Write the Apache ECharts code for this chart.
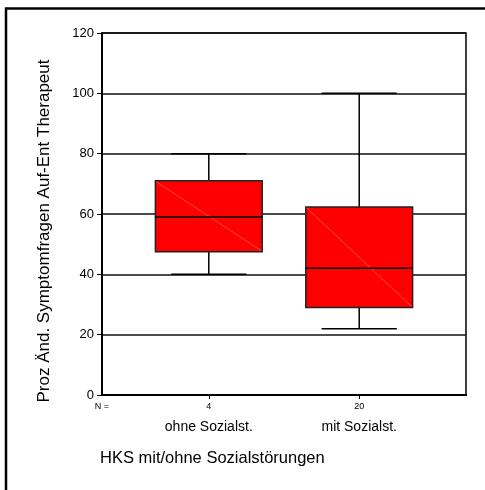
<!DOCTYPE html>
<html>
<head>
<meta charset="utf-8">
<script src="https://cdn.jsdelivr.net/npm/echarts@6/dist/echarts.min.js"></script>
<style>
  html, body { margin: 0; padding: 0; background: #fff; }
  #chart { width: 485px; height: 490px; }
</style>
</head>
<body>
<div id="chart"></div>
<script>
// Group labels and sample sizes
const categories = ['ohne Sozialst.', 'mit Sozialst.'];
const counts = [4, 20];
// Box plot statistics per group (percent change)
const whiskerLow = [40, 22];
const q1 = [47.5, 29];
const median = [59, 42];
const q3 = [71, 62.3];
const whiskerHigh = [80, 100];
// Value axis ticks
const yMin = 0, yMax = 120, yStep = 20;

const xMin = 0.29, xMax = 2.71;
const FONT = 'Liberation Sans, Arial, Helvetica, sans-serif';

const boxData = categories.map((c, i) => [i + 1, whiskerLow[i], q1[i], median[i], q3[i], whiskerHigh[i]]);

const chart = echarts.init(document.getElementById('chart'), null, { renderer: 'canvas' });

chart.setOption({
  animation: false,
  backgroundColor: '#fff',
  title: {
    text: 'HKS mit/ohne Sozialstörungen',
    left: 100,
    top: 450,
    padding: 0,
    textStyle: { fontFamily: FONT, fontSize: 16.5, fontWeight: 'normal', color: '#000' }
  },
  graphic: [{
    type: 'rect',
    silent: true,
    shape: { x: 6, y: 8.5, width: 500, height: 500 },
    style: { fill: 'none', stroke: '#000', lineWidth: 2.5 }
  }],
  grid: {
    left: 102, top: 33, right: 19, bottom: 95,
    show: true, borderColor: '#000', borderWidth: 1.5
  },
  xAxis: {
    type: 'value',
    min: xMin,
    max: xMax,
    splitLine: { show: false },
    axisLine: { show: true, onZero: false, lineStyle: { color: '#000', width: 2 } },
    axisTick: { show: true, customValues: [1, 2], length: 4, lineStyle: { color: '#000', width: 1 } },
    axisLabel: {
      customValues: [xMin, 1, 2],
      margin: 6,
      color: '#000',
      fontFamily: FONT,
      formatter: function (v) {
        if (Math.abs(v - xMin) < 1e-6) return '{n|N =}';
        const i = Math.round(v) - 1;
        return '{n|' + counts[i] + '}\n{c|' + categories[i] + '}';
      },
      rich: {
        n: { fontSize: 9, lineHeight: 12, fontFamily: FONT, color: '#000' },
        c: { fontSize: 14, lineHeight: 28, fontFamily: FONT, color: '#000' }
      }
    }
  },
  yAxis: {
    type: 'value',
    min: yMin,
    max: yMax,
    interval: yStep,
    name: 'Proz Änd. Symptomfragen Auf-Ent Therapeut',
    nameLocation: 'middle',
    nameRotate: 90,
    nameGap: 49,
    nameTextStyle: { fontFamily: FONT, fontSize: 17, color: '#000', padding: [0, 34, 0, 0] },
    axisLine: { show: true, lineStyle: { color: '#000', width: 2 } },
    axisTick: { show: true, length: 5, lineStyle: { color: '#000', width: 1 } },
    axisLabel: { fontFamily: FONT, fontSize: 13, color: '#000', margin: 8 },
    splitLine: { show: true, lineStyle: { color: '#111', width: 1.5 } }
  },
  series: [{
    type: 'custom',
    data: boxData,
    encode: { x: 0, y: [1, 2, 3, 4, 5] },
    renderItem: function (params, api) {
      const x = api.value(0);
      const lo = api.coord([x, api.value(1)]);
      const b1 = api.coord([x, api.value(2)]);
      const md = api.coord([x, api.value(3)]);
      const b3 = api.coord([x, api.value(4)]);
      const hi = api.coord([x, api.value(5)]);
      const boxW = api.size([0.71, 0])[0];
      const capW = api.size([0.5, 0])[0];
      const cx = md[0];
      const left = cx - boxW / 2, right = cx + boxW / 2;
      const line = { stroke: '#000', lineWidth: 1.5 };
      return {
        type: 'group',
        children: [
          { type: 'line', shape: { x1: cx, y1: hi[1], x2: cx, y2: b3[1] }, style: line },
          { type: 'line', shape: { x1: cx, y1: b1[1], x2: cx, y2: lo[1] }, style: line },
          { type: 'line', shape: { x1: cx - capW / 2, y1: hi[1], x2: cx + capW / 2, y2: hi[1] }, style: line },
          { type: 'line', shape: { x1: cx - capW / 2, y1: lo[1], x2: cx + capW / 2, y2: lo[1] }, style: line },
          { type: 'rect', shape: { x: left, y: b3[1], width: boxW, height: b1[1] - b3[1] },
            style: { fill: '#ff0000', stroke: '#222', lineWidth: 1.5 } },
          { type: 'line', shape: { x1: left + 1, y1: b3[1] + 1, x2: right - 1, y2: b1[1] - 1 },
            style: { stroke: '#ff5a5a', lineWidth: 0.8 } },
          { type: 'line', shape: { x1: left, y1: md[1], x2: right, y2: md[1] }, style: line }
        ]
      };
    }
  }]
});
</script>
</body>
</html>
